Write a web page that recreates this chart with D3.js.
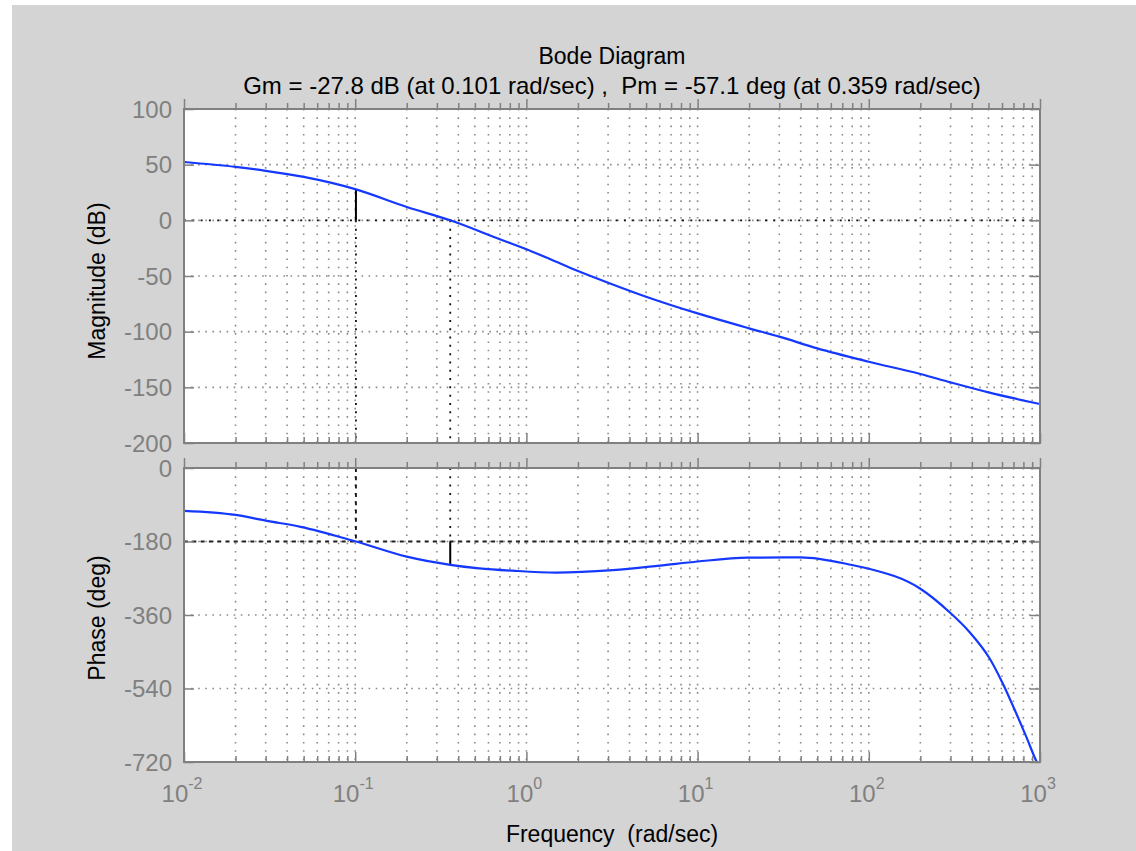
<!DOCTYPE html>
<html>
<head>
<meta charset="utf-8">
<script src="https://cdn.jsdelivr.net/npm/d3@7"></script>
<style>
  body { margin: 0; background: #fff; }
  svg { display: block; font-family: "Liberation Sans", Arial, sans-serif; }
</style>
</head>
<body>
<div id="container"></div>
<script>
/* CONSTANTS AND GLOBALS */
const width = 1136,
  height = 851,
  left = 184,
  right = 1040,
  magTop = 109, magBottom = 443,
  phTop = 468, phBottom = 762;

/* DATA */
const titleLines = ["Bode Diagram", "Gm = -27.8 dB (at 0.101 rad/sec) ,  Pm = -57.1 deg (at 0.359 rad/sec)"];

const magFreq = [0.01, 0.02, 0.03, 0.05, 0.1, 0.2, 0.359, 0.7, 1, 1.36, 2, 3, 5, 10, 20, 30, 50, 100, 200, 300, 500, 1000];
const magDb   = [52.4, 48.0, 44.5, 39.0, 28.0, 12.0, 0, -17.0, -26.0, -34.5, -45.5, -56.0, -68.6, -83.6, -97, -104.5, -115, -127, -138, -145.5, -154.5, -165];

const phFreq = [0.01, 0.02, 0.03, 0.048, 0.101, 0.2, 0.359, 0.53, 0.83, 1.49, 3.2, 6, 10, 19.6, 40, 80, 98, 198, 294, 386, 507, 605, 725, 831, 955, 1000];
const phDeg  = [-105, -115, -129, -144, -180, -217, -237.1, -245.7, -251.5, -256, -250, -239, -229, -219.6, -218.8, -237.6, -245.7, -294.6, -351.9, -400.9, -466, -527, -600, -658, -719, -735];

const gmFreq = 0.101, gmMag = 27.8;
const pmFreq = 0.359, pmPhase = -237.1;

const xMajor = [1e-2, 1e-1, 1e0, 1e1, 1e2, 1e3];
const xExp = ["-2", "-1", "0", "1", "2", "3"];
const magTicks = [100, 50, 0, -50, -100, -150, -200];
const phTicks = [0, -180, -360, -540, -720];

const xMinor = [];
xMajor.slice(0, -1).forEach(d => { for (let k = 2; k <= 9; k++) xMinor.push(d * k); });

const svg = d3.select("#container")
  .append("svg")
  .attr("width", width)
  .attr("height", height);

svg.append("rect").attr("width", width).attr("height", height).attr("fill", "#d4d4d4");
svg.append("rect").attr("width", 12).attr("height", height).attr("fill", "#fff");
svg.append("rect").attr("width", width).attr("height", 5).attr("fill", "#fff");

/* SCALES */
const xScale = d3.scaleLog().domain([1e-2, 1e3]).range([left, right]);
const yMag = d3.scaleLinear().domain([-200, 100]).range([magBottom, magTop]);
const yPh = d3.scaleLinear().domain([-720, 0]).range([phBottom, phTop]);

const gray = "#808080";

function panel(yScale, yTicks, top, bottom, id) {
  const g = svg.append("g");
  g.append("rect").attr("x", left).attr("y", top)
    .attr("width", right - left).attr("height", bottom - top).attr("fill", "#fff");

  g.append("clipPath").attr("id", id)
    .append("rect").attr("x", left).attr("y", top)
    .attr("width", right - left).attr("height", bottom - top);

  // grid
  g.selectAll(".vgrid")
    .data(xMinor.concat(xMajor))
    .join("line")
    .attr("x1", d => xScale(d)).attr("x2", d => xScale(d))
    .attr("y1", top).attr("y2", bottom)
    .attr("stroke", "#8a8a8a").attr("stroke-width", 1.6)
    .attr("stroke-dasharray", "1.6,6.7");

  g.selectAll(".hgrid")
    .data(yTicks)
    .join("line")
    .attr("x1", left).attr("x2", right)
    .attr("y1", d => yScale(d)).attr("y2", d => yScale(d))
    .attr("stroke", "#8a8a8a").attr("stroke-width", 1.6)
    .attr("stroke-dasharray", "1.6,5.5");
  return g;
}

function frame(g, yScale, yTicks, top, bottom) {
  g.append("rect").attr("x", left).attr("y", top)
    .attr("width", right - left).attr("height", bottom - top)
    .attr("fill", "none").attr("stroke", gray).attr("stroke-width", 2);

  // x ticks, inward, bottom and top
  [[d3.axisBottom, bottom, -1], [d3.axisTop, top, 1]].forEach(([ax, y, s]) => {
    g.append("g").attr("transform", `translate(0,${y})`)
      .call(ax(xScale).tickValues(xMinor).tickSize(6 * s).tickSizeOuter(0).tickFormat(""))
      .call(a => a.select(".domain").remove())
      .call(a => a.selectAll("line").attr("stroke", gray).attr("stroke-width", 1.5));
    g.append("g").attr("transform", `translate(0,${y})`)
      .call(ax(xScale).tickValues(xMajor).tickSize(10 * s).tickSizeOuter(0).tickFormat(""))
      .call(a => a.select(".domain").remove())
      .call(a => a.selectAll("line").attr("stroke", gray).attr("stroke-width", 1.5));
  });

  // y ticks, inward, left and right
  g.append("g").attr("transform", `translate(${left},0)`)
    .call(d3.axisLeft(yScale).tickValues(yTicks).tickSize(-10).tickSizeOuter(0).tickFormat(""))
    .call(a => a.select(".domain").remove())
    .call(a => a.selectAll("line").attr("stroke", gray).attr("stroke-width", 1.5));
  g.append("g").attr("transform", `translate(${right},0)`)
    .call(d3.axisRight(yScale).tickValues(yTicks).tickSize(-10).tickSizeOuter(0).tickFormat(""))
    .call(a => a.select(".domain").remove())
    .call(a => a.selectAll("line").attr("stroke", gray).attr("stroke-width", 1.5));

  g.selectAll(".ylab")
    .data(yTicks)
    .join("text")
    .attr("x", left - 12)
    .attr("y", d => yScale(d))
    .attr("dy", "0.36em")
    .attr("text-anchor", "end")
    .attr("fill", gray)
    .style("font-size", "24px")
    .text(d => d);
}

const line = (xs, ys, yScale) => d3.line()
  .x(i => xScale(xs[i]))
  .y(i => yScale(ys[i]))
  .curve(d3.curveMonotoneX)(d3.range(xs.length));

/* MAGNITUDE */
const gm = panel(yMag, magTicks, magTop, magBottom, "clipMag");
gm.append("line")
  .attr("x1", left).attr("x2", right).attr("y1", yMag(0)).attr("y2", yMag(0))
  .attr("stroke", "#111").attr("stroke-width", 1.8).attr("stroke-dasharray", "2,6.3");
[gmFreq, pmFreq].forEach(f => {
  gm.append("line")
    .attr("x1", xScale(f)).attr("x2", xScale(f)).attr("y1", yMag(0)).attr("y2", magBottom)
    .attr("stroke", "#111").attr("stroke-width", 1.8).attr("stroke-dasharray", "2,6.3");
});
gm.append("line")
  .attr("x1", xScale(gmFreq)).attr("x2", xScale(gmFreq)).attr("y1", yMag(0)).attr("y2", yMag(gmMag))
  .attr("stroke", "#000").attr("stroke-width", 2);
gm.append("path")
  .attr("d", line(magFreq, magDb, yMag))
  .attr("clip-path", "url(#clipMag)")
  .attr("fill", "none").attr("stroke", "#1538ff").attr("stroke-width", 2.2);
frame(gm, yMag, magTicks, magTop, magBottom);

/* PHASE */
const gp = panel(yPh, phTicks, phTop, phBottom, "clipPh");
gp.append("line")
  .attr("x1", left).attr("x2", right).attr("y1", yPh(-180)).attr("y2", yPh(-180))
  .attr("stroke", "#222").attr("stroke-width", 1.8).attr("stroke-dasharray", "4,4.3");
gp.append("line")
  .attr("x1", xScale(gmFreq)).attr("x2", xScale(gmFreq)).attr("y1", phTop).attr("y2", yPh(-180))
  .attr("stroke", "#111").attr("stroke-width", 1.8).attr("stroke-dasharray", "4,4.3");
gp.append("line")
  .attr("x1", xScale(pmFreq)).attr("x2", xScale(pmFreq)).attr("y1", phTop).attr("y2", yPh(-180))
  .attr("stroke", "#111").attr("stroke-width", 1.8).attr("stroke-dasharray", "2,6.3");
gp.append("line")
  .attr("x1", xScale(pmFreq)).attr("x2", xScale(pmFreq)).attr("y1", yPh(-180)).attr("y2", yPh(pmPhase))
  .attr("stroke", "#000").attr("stroke-width", 2);
gp.append("path")
  .attr("d", line(phFreq, phDeg, yPh))
  .attr("clip-path", "url(#clipPh)")
  .attr("fill", "none").attr("stroke", "#1538ff").attr("stroke-width", 2.2);
frame(gp, yPh, phTicks, phTop, phBottom);

/* X TICK LABELS */
const xl = svg.selectAll(".xlab")
  .data(xMajor)
  .join("text")
  .attr("x", d => xScale(d) - 2)
  .attr("y", 802)
  .attr("text-anchor", "middle")
  .attr("fill", gray)
  .style("font-size", "24px");
xl.append("tspan").text("10");
xl.append("tspan").attr("dy", -13).style("font-size", "16px").text((d, i) => xExp[i]);

/* TITLES AND LABELS */
svg.selectAll(".title")
  .data(titleLines)
  .join("text")
  .attr("x", (left + right) / 2)
  .attr("y", (d, i) => 64 + i * 30)
  .attr("text-anchor", "middle")
  .attr("fill", "#000")
  .style("font-size", (d, i) => i ? "24px" : "23px")
  .style("white-space", "pre")
  .text(d => d);

svg.append("text")
  .attr("transform", `translate(105,${(magTop + magBottom) / 2 + 5}) rotate(-90)`)
  .attr("text-anchor", "middle")
  .style("font-size", "23px")
  .text("Magnitude (dB)");

svg.append("text")
  .attr("transform", `translate(105,${(phTop + phBottom) / 2 + 3}) rotate(-90)`)
  .attr("text-anchor", "middle")
  .style("font-size", "23px")
  .text("Phase (deg)");

svg.append("text")
  .attr("x", (left + right) / 2)
  .attr("y", 842)
  .attr("text-anchor", "middle")
  .style("font-size", "23px")
  .style("white-space", "pre")
  .text("Frequency  (rad/sec)");
</script>
</body>
</html>
